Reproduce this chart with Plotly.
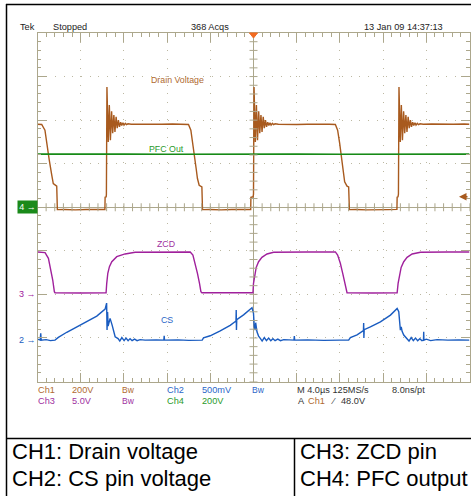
import plotly.graph_objects as go

W, H = 471, 496

# ---------------- data (time in microseconds, values in volts) ----------------
drain_t = [-20.0, -19.8, -19.61, -19.31, -19.15, -18.91, -18.68, -18.54, -18.22, -18.16,
           -17.5, -16.5, -15.5, -14.5, -13.76, -13.74, -13.64,
           -13.62, -13.57, -13.45, -13.35, -13.25, -13.14, -13.04, -12.93, -12.83, -12.72,
           -12.62, -12.51, -12.41, -12.30, -12.20, -12.09, -11.99, -11.87, -11.76, -11.62, -11.32,
           -10.5, -9.5, -8.5, -7.5, -6.5, -6.02, -5.80, -5.61, -5.46, -5.31, -5.19, -5.03, -4.78, -4.72,
           -4.0, -3.0, -2.0, -1.0, -0.26, -0.24, -0.04,
           0.0, 0.05, 0.17, 0.27, 0.37, 0.48, 0.58, 0.69, 0.79, 0.90,
           1.00, 1.11, 1.21, 1.32, 1.42, 1.53, 1.63, 1.75, 1.86, 2.00, 2.30,
           3.0, 4.0, 5.0, 6.0, 7.0, 7.58, 7.79, 7.98, 8.13, 8.29, 8.44, 8.66, 8.81, 8.88,
           9.5, 10.5, 11.5, 12.5, 13.28, 13.30, 13.38,
           13.42, 13.47, 13.59, 13.69, 13.79, 13.90, 14.00, 14.11, 14.21, 14.32,
           14.42, 14.53, 14.63, 14.74, 14.84, 14.95, 15.05, 15.17, 15.28, 15.42, 15.72,
           16.5, 17.5, 18.5, 19.5, 20.0]
drain_v = [381, 382, 380, 354, 293, 216, 147, 109, 97, -11,
           -10, -12, -10, -11, -10, 46, 48,
           60, 552, 300, 469, 308, 441, 340, 423, 346, 415,
           363, 400, 369, 391, 375, 388, 377, 385, 379, 383, 381,
           382, 380, 381, 382, 381, 380, 354, 293, 231, 178, 132, 101, 93, -11,
           -10, -12, -10, -11, -10, 46, 48,
           60, 552, 300, 469, 308, 441, 340, 423, 346, 415,
           363, 400, 369, 391, 375, 388, 377, 385, 379, 383, 381,
           382, 380, 381, 382, 381, 380, 354, 293, 231, 170, 117, 97, 93, -11,
           -10, -12, -10, -11, -10, 46, 48,
           60, 552, 300, 469, 308, 441, 340, 423, 346, 415,
           363, 400, 369, 391, 375, 388, 377, 385, 379, 383, 381,
           382, 380, 381, 382, 381]

pfc_t = [-20, -16, -12, -8, -4, 0, 4, 8, 12, 16, 20]
pfc_v = [244, 245, 244, 243, 244, 245, 244, 243, 244, 245, 244]

zcd_t = [-20.0, -19.30, -18.99, -18.77, -18.59, -18.44, -18.38, -16.0, -13.65,
         -13.59, -13.49, -13.34, -13.12, -12.66, -11.89, -10.96, -8.0, -5.86,
         -5.61, -5.40, -5.19, -5.00, -4.87, -4.78, -2.0, -0.05,
         0.0, 0.10, 0.25, 0.47, 0.78, 1.25, 1.86, 5.0, 7.58,
         7.79, 8.04, 8.26, 8.44, 8.57, 8.66, 11.0, 13.30,
         13.39, 13.51, 13.67, 13.91, 14.22, 14.69, 15.46, 18.0, 20.0]
zcd_v = [4.77, 4.69, 4.04, 2.70, 1.55, 0.21, 0.09, 0.06, 0.09,
         1.17, 2.32, 3.08, 3.65, 4.23, 4.54, 4.73, 4.77, 4.77,
         4.42, 3.47, 2.32, 1.17, 0.21, 0.09, 0.06, 0.09,
         1.17, 2.13, 3.00, 3.65, 4.15, 4.54, 4.73, 4.77, 4.77,
         4.42, 3.47, 2.32, 1.17, 0.29, 0.09, 0.06, 0.09,
         1.17, 2.13, 3.00, 3.65, 4.15, 4.54, 4.73, 4.77, 4.77]

cs_t = [-20.0, -19.75, -19.70, -19.66, -19.2, -18.8, -18.38, -18.07, -17.29, -16.37,
        -15.44, -14.51, -13.74, -13.60, -13.56, -13.51, -13.46, -13.28, -13.09, -12.81,
        -12.54, -12.38, -12.19, -11.98, -11.80, -11.61, -11.43, -11.24, -11.01, -10.78,
        -10.50, -10.04, -9.0, -8.30, -8.27, -8.24, -7.0, -6.0, -4.75,
        -4.63, -4.01, -3.08, -2.16, -1.62, -1.60, -1.58, -1.55, -0.92, -0.30, -0.14,
        0.0, 0.07, 0.16, 0.20, 0.32, 0.47, 0.63, 0.8, 1.0, 1.2, 1.4, 1.6, 1.8, 2.0,
        2.25, 2.5, 2.8, 3.2, 3.75, 3.78, 3.81, 5.0, 6.5, 8.0, 8.81,
        8.97, 9.59, 10.18, 10.20, 10.22, 10.25, 10.82, 11.75, 12.68, 13.30,
        13.45, 13.60, 13.68, 13.76, 13.91, 14.22, 14.4, 14.6, 14.8, 15.0, 15.2,
        15.4, 15.6, 15.74, 15.76, 15.78, 16.0, 16.4, 17.0, 18.0, 19.0, 20.0]
cs_v = [0.011, 0.0, 0.077, 0.0, 0.006, -0.006, 0.0, 0.031, 0.090, 0.150,
        0.210, 0.276, 0.356, 0.425, 0.115, 0.322, 0.161, 0.249, 0.172, 0.038,
        0.017, -0.011, 0.029, -0.006, 0.023, -0.006, 0.017, -0.006, 0.011, -0.006,
        0.006, 0.0, 0.003, 0.0, 0.049, 0.0, 0.003, -0.003, 0.0,
        0.025, 0.050, 0.105, 0.170, 0.220, 0.345, 0.115, 0.235, 0.290, 0.355, 0.371,
        0.307, 0.153, 0.115, 0.200, 0.095, 0.046, 0.020, -0.011, 0.029, -0.006, 0.023, -0.006, 0.017, -0.006,
        0.011, -0.006, 0.006, 0.0, 0.0, 0.046, 0.0, 0.003, -0.003, 0.0, 0.0,
        0.030, 0.060, 0.110, 0.195, 0.025, 0.120, 0.153, 0.210, 0.287, 0.364,
        0.325, 0.115, 0.153, 0.100, 0.058, 0.020, -0.011, 0.029, -0.006, 0.023, -0.006,
        0.017, -0.006, 0.0, 0.095, 0.0, 0.011, -0.006, 0.006, 0.0, 0.003, 0.0]

# channel settings: volts/div and ground offset (divisions from centre)
CH1_VDIV, CH1_OFF = 200.0, 0.0
CH2_VDIV, CH2_OFF = 0.5, -3.05
CH3_VDIV, CH3_OFF = 5.0, -1.98
CH4_VDIV, CH4_OFF = 200.0, 0.0
TRIG_LEVEL = 48.0

BROWN = "#a85a1e"
GREEN = "#178a17"
MAGENTA = "#a0209c"
BLUE = "#1a5cc0"
GRID = "#aca78c"
NARROW = "Liberation Sans Narrow, Arial Narrow, Liberation Sans, sans-serif"
SANS = "Liberation Sans, Arial, sans-serif"
SMALL = 9.2


def to_div(vals, vdiv, off):
    return [v / vdiv + off for v in vals]


fig = go.Figure()
fig.add_trace(go.Scatter(x=drain_t, y=to_div(drain_v, CH1_VDIV, CH1_OFF), mode="lines",
                         line=dict(color=BROWN, width=1.4), hoverinfo="skip", showlegend=False))
fig.add_trace(go.Scatter(x=pfc_t, y=to_div(pfc_v, CH4_VDIV, CH4_OFF), mode="lines",
                         line=dict(color=GREEN, width=1.6), hoverinfo="skip", showlegend=False))
fig.add_trace(go.Scatter(x=zcd_t, y=to_div(zcd_v, CH3_VDIV, CH3_OFF), mode="lines",
                         line=dict(color=MAGENTA, width=1.4), hoverinfo="skip", showlegend=False))
fig.add_trace(go.Scatter(x=cs_t, y=to_div(cs_v, CH2_VDIV, CH2_OFF), mode="lines",
                         line=dict(color=BLUE, width=1.4), hoverinfo="skip", showlegend=False))

X0, X1, Y0, Y1 = 37.5, 469.5, 33.0, 381.5  # graticule in pixels

axis_common = dict(showline=True, linecolor=GRID, linewidth=1, mirror="ticks",
                   ticks="inside", tickcolor=GRID, ticklen=9, tickwidth=1,
                   showticklabels=False, showgrid=True, gridcolor="#bcb8a2",
                   gridwidth=1, zeroline=True, zerolinecolor=GRID, zerolinewidth=1)
fig.update_xaxes(range=[-20, 20], tick0=0, dtick=4, domain=[X0 / W, X1 / W],
                 griddash="1px,7.63px",
                 minor=dict(dtick=0.8, ticks="inside", ticklen=3.5, tickcolor=GRID, showgrid=False),
                 **axis_common)
fig.update_yaxes(range=[-4, 4], tick0=0, dtick=1, domain=[1 - Y1 / H, 1 - Y0 / H],
                 griddash="1px,7.7px",
                 minor=dict(dtick=0.2, ticks="inside", ticklen=3.5, tickcolor=GRID, showgrid=False),
                 **axis_common)

shapes = []
# ticks on the centre cross
for k in range(-25, 26):
    shapes.append(dict(type="line", xref="x", yref="y", x0=k * 0.8, x1=k * 0.8,
                       ysizemode="pixel", yanchor=0, y0=-4, y1=4,
                       line=dict(color=GRID, width=1)))
for k in range(-20, 21):
    shapes.append(dict(type="line", xref="x", yref="y", y0=k * 0.2, y1=k * 0.2,
                       xsizemode="pixel", xanchor=0, x0=-4, x1=4,
                       line=dict(color=GRID, width=1)))
# trigger position marker
shapes.append(dict(type="path", xref="x", yref="paper", xsizemode="pixel", ysizemode="pixel",
                   xanchor=0, yanchor=1 - Y0 / H, path="M-4,0 L4,0 L0,-5 Z",
                   fillcolor="#f26b21", line=dict(color="#f26b21", width=1)))


def pline(x0, y0, x1, y1, w=1.5):
    shapes.append(dict(type="line", xref="paper", yref="paper",
                       x0=x0 / W, x1=x1 / W, y0=1 - y0 / H, y1=1 - y1 / H,
                       line=dict(color="black", width=w)))


pline(6, 4.5, 471, 4.5)
pline(6.5, 4, 6.5, 496)
pline(6, 438.5, 471, 438.5)
pline(294.5, 438.5, 294.5, 496)
fig.update_layout(shapes=shapes)


def txt(s, x, y, color, size=SMALL, family=NARROW, xanchor="left", **kw):
    fig.add_annotation(text=s, x=x / W, y=1 - y / H, xref="paper", yref="paper",
                       xanchor=xanchor, yanchor="middle", showarrow=False,
                       font=dict(family=family, size=size, color=color), borderpad=0, **kw)


# header
txt("Tek", 19, 27, "#222")
txt("Stopped", 52, 27, "#222")
txt("368 Acqs", 190, 27, "#222")
txt("13 Jan 09 14:37:13", 363, 27, "#222")

# waveform labels (in plot coordinates)
for s, t, yd, c in [("Drain Voltage", -7.07, 2.92, "#b06a30"),
                    ("PFC Out", -8.04, 1.33, "#2a9a2a"),
                    ("ZCD", -8.09, -0.84, "#a030a0"),
                    ("CS", -8.04, -2.59, "#2a66c8")]:
    fig.add_annotation(text=s, x=t, y=yd, xref="x", yref="y", showarrow=False,
                       font=dict(family=NARROW, size=8.8, color=c))

# channel ground markers
fig.add_annotation(text="4 →", x=X0 / W, y=CH4_OFF, xref="paper", yref="y", xanchor="right",
                   showarrow=False, bgcolor="#1a8a1a", width=19, height=12, borderpad=0,
                   font=dict(family=NARROW, size=9, color="white"))
fig.add_annotation(text="3 →", x=X0 / W, y=CH3_OFF, xref="paper", yref="y", xanchor="right",
                   showarrow=False, font=dict(family=NARROW, size=9, color=MAGENTA))
fig.add_annotation(text="2 →", x=X0 / W, y=CH2_OFF, xref="paper", yref="y", xanchor="right",
                   showarrow=False, font=dict(family=NARROW, size=9, color=BLUE))
# trigger level marker (arrow pointing left at the right edge)
fig.add_annotation(text="", x=459 / W, y=TRIG_LEVEL / CH1_VDIV + CH1_OFF, xref="paper", yref="y",
                   showarrow=True, ax=10, ay=0, arrowhead=2, arrowsize=1, arrowwidth=1.5,
                   arrowcolor=BROWN, standoff=0)

# settings readout
r1, r2 = 390, 400.5
txt("Ch1", 37, r1, "#b06a30"); txt("200V", 71, r1, "#b06a30"); txt("Bw", 121, r1, "#b06a30", size=8.5)
txt("Ch2", 166, r1, "#2a66c8"); txt("500mV", 201, r1, "#2a66c8"); txt("Bw", 251, r1, "#2a66c8", size=8.5)
txt("M 4.0µs 125MS/s", 296, r1, "#333"); txt("8.0ns/pt", 391, r1, "#333")
txt("Ch3", 37, r2, "#a030a0"); txt("5.0V", 71, r2, "#a030a0"); txt("Bw", 121, r2, "#a030a0", size=8.5)
txt("Ch4", 166, r2, "#2a9a2a"); txt("200V", 201, r2, "#2a9a2a")
txt("A", 297, r2, "#333"); txt("Ch1", 307, r2, "#b06a30"); txt("⁄", 330, r2, "#333")
txt("48.0V", 340, r2, "#333")

# table
txt("CH1: Drain voltage", 11, 451.5, "black", size=22, family=SANS)
txt("CH2: CS pin voltage", 11, 478.5, "black", size=22, family=SANS)
txt("CH3: ZCD pin", 299, 451.5, "black", size=22, family=SANS)
txt("CH4: PFC output", 299, 478.5, "black", size=22, family=SANS)

fig.update_layout(width=W, height=H, autosize=False, margin=dict(l=0, r=0, t=0, b=0, pad=0),
                  paper_bgcolor="white", plot_bgcolor="white", hovermode=False)

fig.write_html("out.html")
